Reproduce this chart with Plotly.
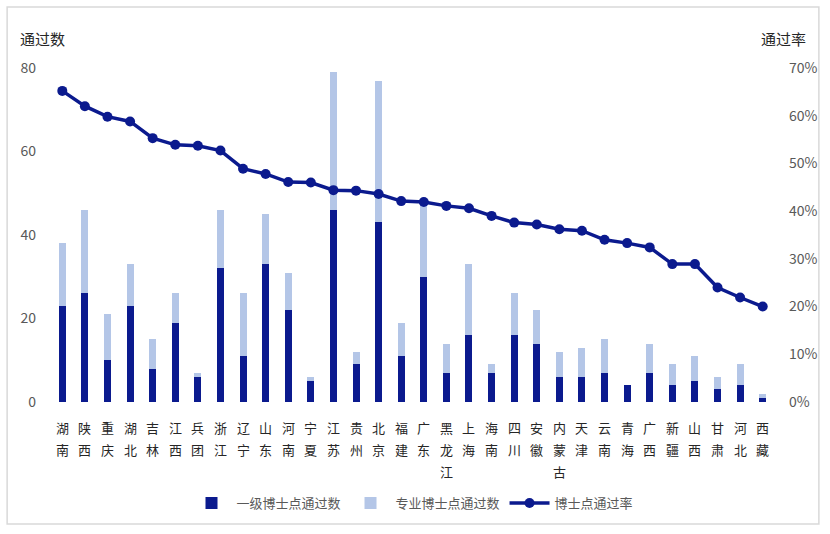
import plotly.graph_objects as go

provinces = ["湖南", "陕西", "重庆", "湖北", "吉林", "江西", "兵团", "浙江", "辽宁", "山东",
             "河南", "宁夏", "江苏", "贵州", "北京", "福建", "广东", "黑龙江", "上海", "海南",
             "四川", "安徽", "内蒙古", "天津", "云南", "青海", "广西", "新疆", "山西", "甘肃",
             "河北", "西藏"]
level1_pass = [23, 26, 10, 23, 8, 19, 6, 32, 11, 33,
               22, 5, 46, 9, 43, 11, 30, 7, 16, 7,
               16, 14, 6, 6, 7, 4, 7, 4, 5, 3,
               4, 1]
total_pass = [38, 46, 21, 33, 15, 26, 7, 46, 26, 45,
              31, 6, 79, 12, 77, 19, 48, 14, 33, 9,
              26, 22, 12, 13, 15, 4, 14, 9, 11, 6,
              9, 2]
prof_pass = [t - a for t, a in zip(total_pass, level1_pass)]
pass_rate = [65.2, 62.0, 59.8, 58.8, 55.3, 53.9, 53.7, 52.7, 48.9, 47.8,
             46.1, 46.0, 44.4, 44.3, 43.6, 42.1, 41.9, 41.1, 40.6, 39.0,
             37.6, 37.2, 36.2, 35.9, 34.0, 33.3, 32.4, 28.9, 28.9, 24.0,
             21.9, 20.0]
left_ticks = [0, 20, 40, 60, 80]
right_ticks = [0, 0.1, 0.2, 0.3, 0.4, 0.5, 0.6, 0.7]

DARK = "#0b1a8e"
LIGHT = "#b4c6e7"
FONT = "Noto Sans CJK SC"

idx = list(range(len(provinces)))

fig = go.Figure()
fig.add_trace(go.Bar(x=idx, y=level1_pass, name="一级博士点通过数",
                     marker=dict(color=DARK, line=dict(width=0)), width=0.31))
fig.add_trace(go.Bar(x=idx, y=prof_pass, name="专业博士点通过数",
                     marker=dict(color=LIGHT, line=dict(width=0)), width=0.31))
fig.add_trace(go.Scatter(x=idx, y=[r / 100 for r in pass_rate], name="博士点通过率",
                         yaxis="y2", mode="lines+markers",
                         line=dict(color=DARK, width=3.5),
                         marker=dict(color=DARK, size=10)))

annotations = []
for i, name in enumerate(provinces):
    for j, ch in enumerate(name):
        annotations.append(dict(x=i, y=0, xref="x", yref="paper", text=ch,
                                showarrow=False, yanchor="middle", xanchor="center",
                                yshift=-25 - 22 * j,
                                font=dict(family=FONT, size=13, color="#262626")))
annotations.append(dict(x=18, y=38, xref="pixel" if False else "paper", yref="paper",
                        text="通过数", showarrow=False))
annotations.pop()

W, H = 830, 534
ml, mr, mt, mb = 51, 54, 68, 132
pw, ph = W - ml - mr, H - mt - mb

def px_x(x):
    return (x - ml) / pw

def px_y(y):
    return (H - mb - y) / ph

annotations.append(dict(x=px_x(18), y=px_y(38), xref="paper", yref="paper", text="通过数",
                        showarrow=False, xanchor="left", yanchor="middle",
                        font=dict(family=FONT, size=15, color="#262626")))
annotations.append(dict(x=px_x(810), y=px_y(38), xref="paper", yref="paper", text="通过率",
                        showarrow=False, xanchor="right", yanchor="middle",
                        font=dict(family=FONT, size=15, color="#262626")))

fig.update_layout(
    width=W, height=H,
    margin=dict(l=ml, r=mr, t=mt, b=mb),
    barmode="stack",
    plot_bgcolor="white", paper_bgcolor="white",
    font=dict(family=FONT),
    showlegend=True,
    legend=dict(orientation="h", x=0.5, xanchor="center", y=px_y(503), yanchor="middle",
                font=dict(family=FONT, size=13, color="#595959"),
                itemwidth=40, traceorder="normal"),
    xaxis=dict(range=[-0.5, len(provinces) - 0.5], showticklabels=False, showgrid=False,
               zeroline=False, showline=False, ticks=""),
    yaxis=dict(range=[0, 80], tickvals=left_ticks, showgrid=False, zeroline=False,
               showline=False, ticks="", ticklabelstandoff=14,
               tickfont=dict(family=FONT, size=14, color="#595959")),
    yaxis2=dict(range=[0, 0.7], tickvals=right_ticks, tickformat=".0%", overlaying="y",
                side="right", showgrid=False, zeroline=False, showline=False, ticks="",
                ticklabelstandoff=14,
                tickfont=dict(family=FONT, size=14, color="#595959")),
    annotations=annotations,
    shapes=[dict(type="rect", xref="paper", yref="paper",
                 x0=px_x(7), x1=px_x(821), y0=px_y(524), y1=px_y(7),
                 line=dict(color="#d9d9d9", width=1.5), layer="below")],
)

fig.write_html("out.html")
